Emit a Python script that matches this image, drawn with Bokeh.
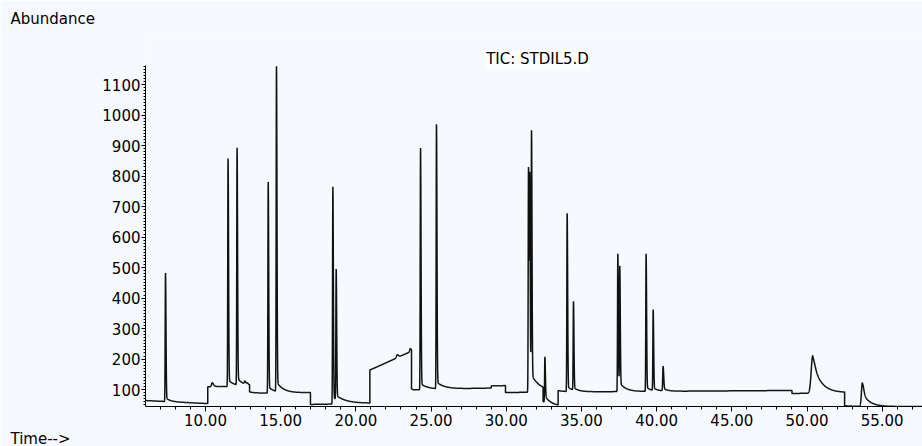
import numpy as np
from bokeh.plotting import figure
from bokeh.models import Range1d, FixedTicker, PrintfTickFormatter, Title, Label
from bokeh.embed import file_html
from bokeh.resources import INLINE

# ---- chromatogram data -------------------------------------------------
# retention time (min), apex abundance, and peak shape (front sigma, tail fraction, tail time constant)
peak_time = [7.34, 10.45, 11.50, 12.10, 12.62, 12.78, 14.17, 14.72, 18.47, 18.69,
             22.75, 23.62, 24.30, 25.36, 31.48, 31.56, 31.68, 32.57, 34.05, 34.47,
             37.42, 37.55, 39.30, 39.77, 40.43, 50.38, 53.68]
peak_apex = [482, 122, 858, 893, 128, 122, 781, 1160, 765, 495,
             214, 234, 892, 970, 830, 814, 950, 207, 678, 389,
             545, 506, 545, 362, 176, 211, 122]
peak_sigma = [0.02, 0.05, 0.02, 0.02, 0.04, 0.04, 0.02, 0.02, 0.02, 0.02,
              0.05, 0.04, 0.02, 0.02, 0.02, 0.02, 0.02, 0.02, 0.02, 0.02,
              0.02, 0.02, 0.02, 0.02, 0.025, 0.10, 0.06]
peak_tail_frac = [0.03, 0.30, 0.03, 0.03, 0.30, 0.30, 0.03, 0.03, 0.03, 0.03,
                  0.30, 0.30, 0.025, 0.025, 0.03, 0.03, 0.03, 0.15, 0.03, 0.03,
                  0.04, 0.04, 0.03, 0.03, 0.10, 0.85, 0.60]
peak_tail_tau = [0.30, 0.20, 0.40, 0.40, 0.15, 0.15, 0.40, 0.45, 0.70, 0.70,
                 0.15, 0.10, 0.50, 0.55, 0.60, 0.60, 0.60, 0.35, 0.35, 0.35,
                 0.40, 0.40, 0.35, 0.35, 0.30, 0.53, 0.45]

# baseline between scan events: start, end (min) and abundance at each end
seg_start = [6.00, 10.15, 12.93, 16.98, 20.93, 23.70, 29.00, 29.95, 32.45, 33.45, 49.00, 52.50]
seg_end = [10.15, 12.93, 16.98, 20.93, 23.70, 29.00, 29.95, 32.45, 33.45, 49.00, 52.50, 57.70]
seg_level_start = [64, 109, 88, 51, 163, 99, 112, 90, 45, 92, 87, 45]
seg_level_end = [54, 111, 90, 55, 226, 105, 113, 92, 45, 97, 90, 44]

x_major_ticks = [10, 15, 20, 25, 30, 35, 40, 45, 50, 55]
y_major_ticks = [100, 200, 300, 400, 500, 600, 700, 800, 900, 1000, 1100]

X_START, X_END = 6.01, 57.68
Y_START, Y_AXIS_END = 44.4, 1163.0
Y_VIEW_END = 1264.4      # headroom above the axis for the run title


def baseline(t):
    t = np.asarray(t, dtype=float)
    out = np.full(t.shape, seg_level_end[-1], dtype=float)
    for s, e, a, b in zip(seg_start, seg_end, seg_level_start, seg_level_end):
        m = (t >= s) & (t < e)
        out[m] = a + (b - a) * (t[m] - s) / (e - s)
    return out


def peak_shape(t, t0, sig, k, tau):
    d = np.asarray(t, dtype=float) - t0
    front = np.exp(-0.5 * (d / sig) ** 2)
    back = (1 - k) * np.exp(-0.5 * (d / (1.6 * sig)) ** 2) + k * np.exp(-np.clip(d, 0, None) / tau)
    return np.where(d < 0, front, back)


# time grid: fine sampling plus exact apex times and both sides of each step
grid = np.arange(X_START - 0.01, X_END + 0.01, 0.004)
edges = np.array(seg_start[1:])
t = np.unique(np.concatenate([grid, peak_time, edges, edges - 1e-5]))

# solve for peak amplitudes so every apex lands on its listed abundance
pt = np.array(peak_time)
M = np.array([[peak_shape(ti, tj, s, k, tau)
               for tj, s, k, tau in zip(peak_time, peak_sigma, peak_tail_frac, peak_tail_tau)]
              for ti in pt])
amp = np.linalg.solve(M, np.array(peak_apex, dtype=float) - baseline(pt))

signal = baseline(t)
for a, tj, s, k, tau in zip(amp, peak_time, peak_sigma, peak_tail_frac, peak_tail_tau):
    signal += a * peak_shape(t, tj, s, k, tau)

# ---- figure ------------------------------------------------------------
BG = "#F6FAFF"
FONT = "DejaVu Sans"

p = figure(width=922, height=446, output_backend="svg", toolbar_location=None,
           x_range=Range1d(X_START, X_END), y_range=Range1d(Y_START, Y_VIEW_END),
           min_border_left=145, min_border_right=0, min_border_top=34, min_border_bottom=39)
p.background_fill_color = BG
p.border_fill_color = BG
p.outline_line_color = None
p.grid.visible = False

p.line(t, signal, line_color="#111111", line_width=1.5)

xa = p.xaxis[0]
xa.ticker = FixedTicker(ticks=x_major_ticks, minor_ticks=list(range(7, 58)))
xa.formatter = PrintfTickFormatter(format="%.2f")
xa.major_tick_in = 0
xa.major_tick_out = 5
xa.minor_tick_in = 0
xa.minor_tick_out = 3
xa.major_label_standoff = 2

ya = p.yaxis[0]
ya.bounds = (Y_START, Y_AXIS_END)
ya.ticker = FixedTicker(ticks=y_major_ticks, minor_ticks=list(range(50, 1170, 10)))
ya.major_tick_in = 0
ya.major_tick_out = 4
ya.minor_tick_in = 0
ya.minor_tick_out = 2
ya.major_label_standoff = 1

for ax in (xa, ya):
    ax.axis_line_color = "black"
    ax.major_tick_line_color = "black"
    ax.minor_tick_line_color = "black"
    ax.major_label_text_color = "black"
    ax.major_label_text_font = FONT
    ax.major_label_text_font_size = "15px"


def heading(text, offset, standoff):
    return Title(text=text, align="left", offset=offset, standoff=standoff,
                 text_font=FONT, text_font_size="15px", text_font_style="normal",
                 text_color="black")


# axis captions at the far left, run title centred above the trace
p.add_layout(heading("Abundance", -135, 14), "above")
p.add_layout(heading("Time-->", -135, -2), "below")
p.add_layout(Label(x=32.08, y=1182.6, text="TIC: STDIL5.D", text_align="center",
                   text_baseline="middle", text_font=FONT, text_font_size="15px",
                   text_color="black", background_fill_color="white"))

open("out.html", "w").write(file_html(p, INLINE))
